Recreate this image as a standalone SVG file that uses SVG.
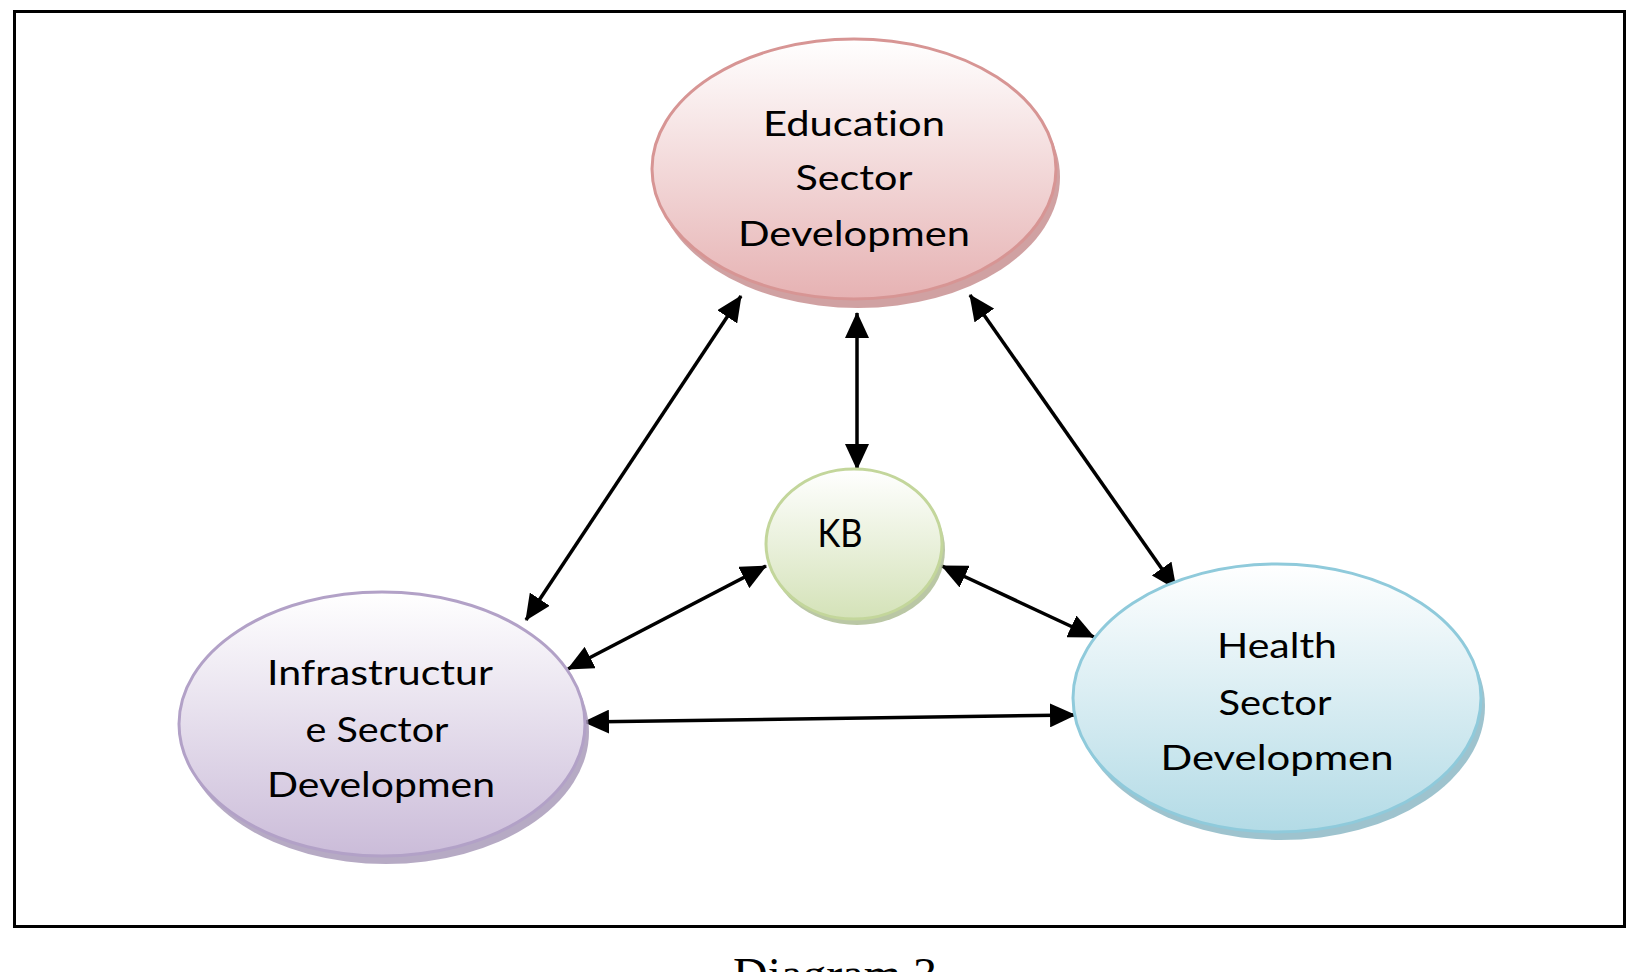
<svg xmlns="http://www.w3.org/2000/svg" width="1637" height="972" viewBox="0 0 1637 972">
<style>
  .lbl { font-family: Lato, "Liberation Sans", sans-serif; font-size: 35px; fill: #000; text-anchor: middle; font-variant-ligatures: none; }
  .conn { stroke: #000; stroke-width: 3.5; fill: none; marker-start: url(#ah); marker-end: url(#ah); }
  .cap { font-family: "Liberation Serif", serif; font-size: 48px; fill: #000; }
</style>
<defs>
  <marker id="ah" viewBox="0 0 26 24" refX="25" refY="12" markerWidth="26" markerHeight="24" markerUnits="userSpaceOnUse" orient="auto-start-reverse">
    <path d="M0,0 L26,12 L0,24 z" fill="#000"/>
  </marker>
  <linearGradient id="gEdu" x1="0" y1="0" x2="0" y2="1">
    <stop offset="0" stop-color="#ffffff"/>
    <stop offset="1" stop-color="#e6b2b3"/>
  </linearGradient>
  <linearGradient id="gInf" x1="0" y1="0" x2="0" y2="1">
    <stop offset="0" stop-color="#ffffff"/>
    <stop offset="1" stop-color="#cbbcd9"/>
  </linearGradient>
  <linearGradient id="gHea" x1="0" y1="0" x2="0" y2="1">
    <stop offset="0" stop-color="#ffffff"/>
    <stop offset="1" stop-color="#b3dbe6"/>
  </linearGradient>
  <linearGradient id="gKB" x1="0" y1="0" x2="0" y2="1">
    <stop offset="0" stop-color="#ffffff"/>
    <stop offset="1" stop-color="#d4e2b8"/>
  </linearGradient>
</defs>
<rect width="1637" height="972" fill="#ffffff"/>
<rect x="14.5" y="11.5" width="1610" height="915" fill="none" stroke="#000" stroke-width="3"/>

<g id="connectors">
  <line class="conn" x1="741" y1="296" x2="526" y2="620"/>
  <line class="conn" x1="857" y1="313" x2="857" y2="469"/>
  <line class="conn" x1="970" y1="295" x2="1176" y2="589"/>
  <line class="conn" x1="766" y1="566" x2="568" y2="669"/>
  <line class="conn" x1="942" y1="566" x2="1094" y2="637"/>
  <line class="conn" x1="584" y1="722" x2="1075" y2="715"/>
</g>

<g id="node-education">
  <ellipse cx="858" cy="177" rx="202" ry="131" fill="#c48a8b" opacity="0.8"/>
  <ellipse cx="854" cy="169" rx="202" ry="130" fill="url(#gEdu)" stroke="#d79594" stroke-width="3"/>
  <text class="lbl" x="854" y="136" textLength="182" lengthAdjust="spacingAndGlyphs">Education</text>
  <text class="lbl" x="854" y="190" textLength="117" lengthAdjust="spacingAndGlyphs">Sector</text>
  <text class="lbl" x="854" y="246" textLength="232" lengthAdjust="spacingAndGlyphs">Developmen</text>
</g>

<g id="node-infrastructure">
  <ellipse cx="386" cy="732" rx="203" ry="132" fill="#a495b5" opacity="0.8"/>
  <ellipse cx="382" cy="724" rx="203" ry="132" fill="url(#gInf)" stroke="#b2a1c7" stroke-width="3"/>
  <text class="lbl" x="380" y="685" textLength="226" lengthAdjust="spacingAndGlyphs">Infrastructur</text>
  <text class="lbl" x="377" y="742" textLength="143" lengthAdjust="spacingAndGlyphs">e Sector</text>
  <text class="lbl" x="381" y="797" textLength="228" lengthAdjust="spacingAndGlyphs">Developmen</text>
</g>

<g id="node-health">
  <ellipse cx="1281" cy="706" rx="204" ry="134" fill="#86b4c2" opacity="0.8"/>
  <ellipse cx="1277" cy="698" rx="204" ry="134" fill="url(#gHea)" stroke="#8fcadb" stroke-width="3"/>
  <text class="lbl" x="1277" y="658" textLength="120" lengthAdjust="spacingAndGlyphs">Health</text>
  <text class="lbl" x="1275" y="715" textLength="113" lengthAdjust="spacingAndGlyphs">Sector</text>
  <text class="lbl" x="1277" y="770" textLength="233" lengthAdjust="spacingAndGlyphs">Developmen</text>
</g>

<g id="node-kb">
  <ellipse cx="857" cy="550" rx="88" ry="75" fill="#a9b98f" opacity="0.8"/>
  <ellipse cx="854" cy="544" rx="88" ry="75" fill="url(#gKB)" stroke="#c3d69b" stroke-width="3"/>
  <text class="lbl" x="840" y="547" style="font-size:38px" textLength="45" lengthAdjust="spacingAndGlyphs">KB</text>
</g>

<text class="cap" x="733" y="991" textLength="204" lengthAdjust="spacingAndGlyphs">Diagram 3</text>
</svg>
